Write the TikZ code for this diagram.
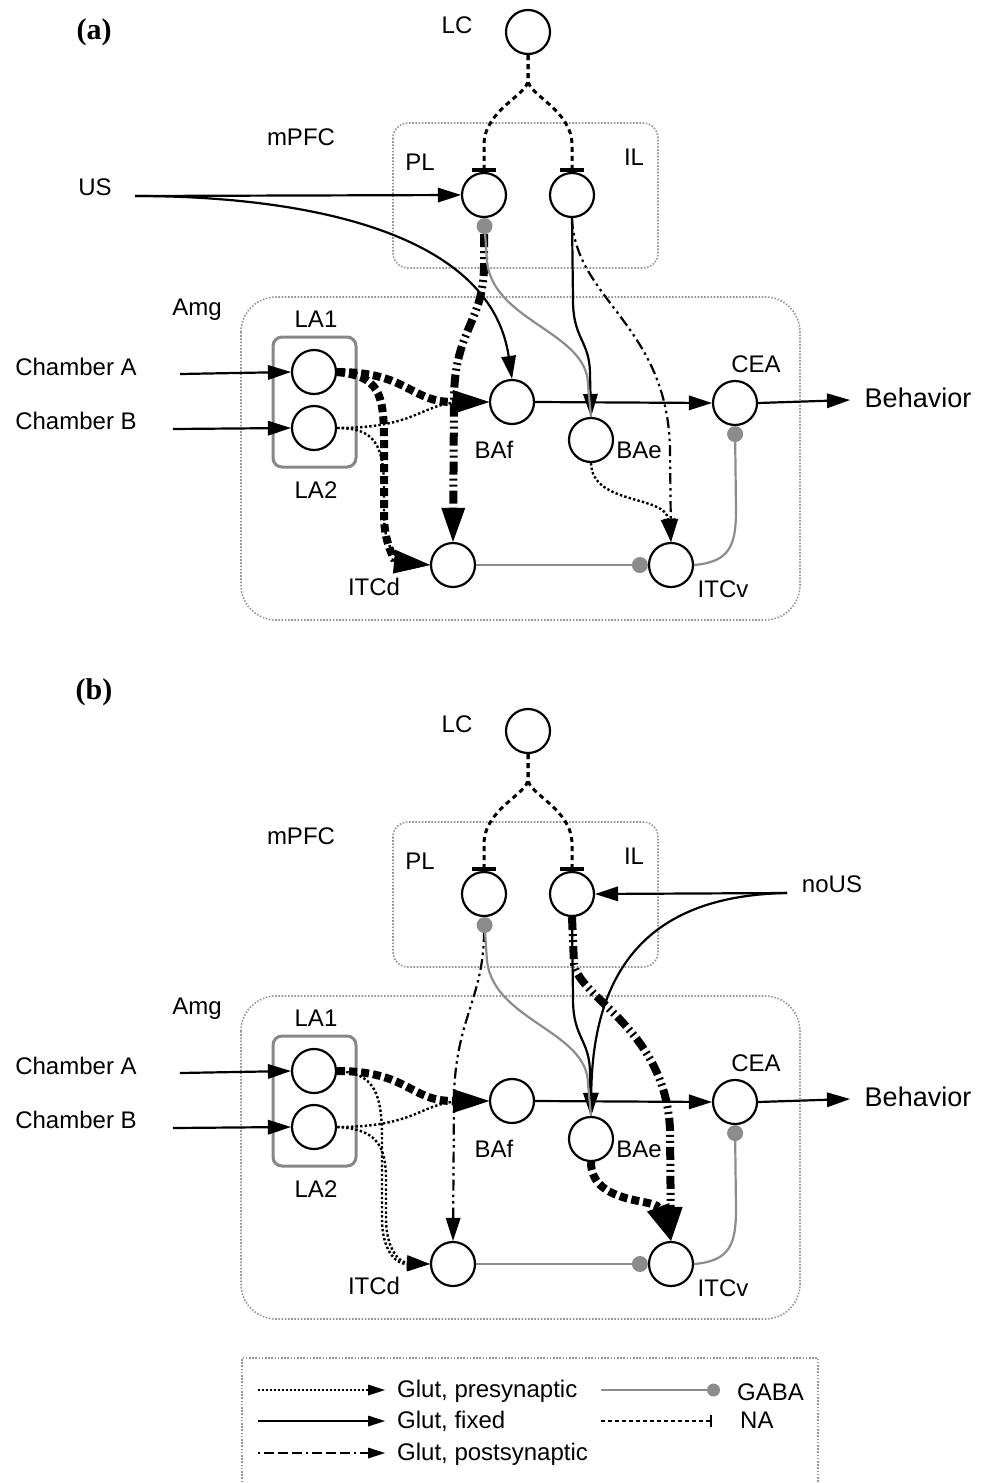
\documentclass[tikz,border=0pt]{standalone}
\usepackage{fontspec}
\setmainfont{Liberation Sans}
\newfontfamily\serifbold{Liberation Serif}
\usetikzlibrary{arrows.meta}
\definecolor{gabagray}{RGB}{140,140,140}
\definecolor{boxgray}{RGB}{150,150,150}
\definecolor{labgray}{RGB}{135,135,135}

\tikzset{
  neuron/.style={circle, draw, line width=2.2pt, minimum size=44pt, inner sep=0pt, fill=white},
  txt/.style={font=\fontsize{24}{28}\selectfont, inner sep=0pt, anchor=base},
  bigtxt/.style={font=\fontsize{27}{30}\selectfont, inner sep=0pt, anchor=base},
  paneltxt/.style={font=\serifbold\bfseries\fontsize{30}{34}\selectfont, inner sep=0pt, anchor=base},
  region/.style={draw=boxgray, line width=1.6pt, dash pattern=on 1.6pt off 1.6pt},
  labox/.style={draw=labgray, line width=3pt, rounded corners=9pt},
  fixedax/.style={line width=2.2pt, -{Triangle[length=23pt,width=15pt,line width=0pt]}},
  prethin/.style={line width=2.4pt, dash pattern=on 2.4pt off 2.2pt, -{Triangle[length=23pt,width=15pt,line width=0pt]}},
  prethick/.style={line width=8pt, dash pattern=on 8pt off 4pt, -{Triangle[length=36pt,width=24pt,line width=0pt]}},
  postthin/.style={line width=2.2pt, dash pattern=on 11pt off 4pt on 2.5pt off 4pt on 2.5pt off 4pt, -{Triangle[length=23pt,width=15pt,line width=0pt]}},
  postthick/.style={line width=8pt, dash pattern=on 13pt off 4pt on 2pt off 4pt on 2pt off 4pt, -{Triangle[length=34pt,width=24pt,line width=0pt]}},
  gaba/.style={draw=gabagray, line width=2.2pt, -{Circle[length=16pt,line width=0pt]}},
  nalink/.style={line width=3pt, dash pattern=on 5pt off 4pt, -{Bar[width=24pt,line width=3.5pt]}}
}

\newcommand{\panelcommon}{%
  % regions
  \draw[region, rounded corners=15pt] (393,123) rectangle (658,268);
  \draw[region, rounded corners=35pt] (241,297) rectangle (800,620);
  \draw[labox] (273,337) rectangle (356,467);
  % labels
  \node[txt] (tLC) at (457,33) {LC};
  \node[txt] (tmPFC) at (301,145) {mPFC};
  \node[txt] (tPL) at (420,170) {PL};
  \node[txt] (tIL) at (634,165) {IL};
  \node[txt] (tAmg) at (197,315) {Amg};
  \node[txt] (tLA1) at (316,327) {LA1};
  \node[txt] (tLA2) at (316,498) {LA2};
  \node[txt] (tChA) at (76,375) {Chamber A};
  \node[txt] (tChB) at (76,429) {Chamber B};
  \node[txt] (tBAf) at (494,458) {BAf};
  \node[txt] (tBAe) at (639,458) {BAe};
  \node[txt] (tCEA) at (756,372) {CEA};
  \node[txt] (tITCd) at (374,595) {ITCd};
  \node[txt] (tITCv) at (723,597) {ITCv};
  \node[bigtxt] (tBeh) at (918,407) {Behavior};
  % neurons
  \node[neuron] (LC) at (528,32) {};
  \node[neuron] (PL) at (484,195) {};
  \node[neuron] (IL) at (572,195) {};
  \node[neuron] (LA1) at (314,372) {};
  \node[neuron] (LA2) at (314,428) {};
  \node[neuron] (BAf) at (512,402) {};
  \node[neuron] (BAe) at (591,440) {};
  \node[neuron] (CEA) at (735,403) {};
  \node[neuron] (ITCd) at (453,565) {};
  \node[neuron] (ITCv) at (671,565) {};
  \coordinate (chA) at (180,374);
  \coordinate (chB) at (173,429);
  \coordinate (beh) at (850,400);
  % NA
  \draw[nalink] (LC.south) -- (528,80) .. controls (528,95) and (484,110) .. (484,145) -- (PL.north);
  \draw[nalink] (LC.south) -- (528,80) .. controls (528,95) and (572,110) .. (572,145) -- (IL.north);
  % inputs / outputs
  \draw[fixedax] (chA) -- (LA1.west);
  \draw[fixedax] (chB) -- (LA2.west);
  \draw[fixedax] (BAf.east) -- (CEA.west);
  \draw[fixedax] (CEA.east) -- (beh);
  % IL -> BAe
  \draw[fixedax] (IL.south) -- (573,300) .. controls (573,340) and (590,340) .. (590,375) -- (BAe.north);
  % LA -> BAf
  \draw[prethin] (LA2.east) .. controls (420,428) and (420,402) .. (BAf.west);
  \draw[prethick] (LA1.east) .. controls (408,372) and (410,402) .. (BAf.west);
}

\newcommand{\panelgaba}{%
  \draw[gaba] (BAe.north) -- (588,385) .. controls (588,332) and (494,322) .. (487,262) -- (PL.south);
  \draw[gaba] (ITCd.east) -- (ITCv.west);
  \draw[gaba] (ITCv.east) .. controls (730,562) and (736,545) .. (736,510) -- (CEA.south);
}

\begin{document}
\begin{tikzpicture}[x=1pt,y=-1pt]
\useasboundingbox (0,0) rectangle (989,1483);

% ---------------- panel (a)
\node[paneltxt] (pa) at (94,39) {(a)};
\begin{scope}[name prefix=a-]
  \panelcommon
  \node[txt] (tUS) at (95,195) {US};
  \coordinate (us) at (135,196);
  \draw[fixedax] (us) -- (PL.west);
  \draw[fixedax] (us) .. controls (300,196) and (490,230) .. (BAf.north);
  \draw[prethin] (LA2.east) .. controls (375,428) and (384,445) .. (384,490) -- (384,515) .. controls (384,548) and (398,562) .. (ITCd.west);
  \draw[prethick] (LA1.east) .. controls (378,376) and (384,392) .. (384,440) -- (384,515) .. controls (384,548) and (398,562) .. (ITCd.west);
  \draw[postthick] (484,234) -- (484,265) .. controls (484,322) and (454,330) .. (454,400) -- (ITCd.north);
  \draw[postthin] (IL.south) .. controls (575,300) and (668,325) .. (670,450) -- (ITCv.north);
  \draw[prethin] (BAe.south) .. controls (592,505) and (665,495) .. (ITCv.north);
  \panelgaba
\end{scope}

% ---------------- panel (b)
\node[paneltxt] (pb) at (94,699) {(b)};
\begin{scope}[name prefix=b-, shift={(0,699)}]
  \panelcommon
  \node[txt] (tnoUS) at (832,193) {noUS};
  \coordinate (nous) at (787,194);
  \draw[fixedax] (nous) -- (IL.east);
  \draw[fixedax] (nous) .. controls (680,196) and (593,240) .. (BAe.north);
  \draw[prethin] (LA1.east) .. controls (375,374) and (382,395) .. (382,440) -- (382,520) .. controls (382,550) and (395,565) .. (ITCd.west);
  \draw[prethin] (LA2.east) .. controls (375,430) and (386,445) .. (386,480) -- (386,520) .. controls (386,548) and (398,563) .. (ITCd.west);
  \draw[postthin] (484,232) .. controls (484,300) and (455,320) .. (454,400) -- (ITCd.north);
  \draw[postthick] (IL.south) -- (574,265) .. controls (580,300) and (665,330) .. (670,430) -- (ITCv.north);
  \draw[prethick] (BAe.south) .. controls (591,505) and (655,500) .. (ITCv.north);
  \panelgaba
\end{scope}

% ---------------- legend
\draw[region] (242,1495) |- (818,1358) -- (818,1495);
\coordinate (l1a) at (258,1390); \coordinate (l1b) at (385,1390);
\coordinate (l2a) at (258,1421); \coordinate (l2b) at (385,1421);
\coordinate (l3a) at (258,1453); \coordinate (l3b) at (385,1453);
\coordinate (g1a) at (601,1390); \coordinate (g1b) at (720,1390);
\coordinate (g2a) at (601,1421); \coordinate (g2b) at (712,1421);
\draw[line width=2pt, dash pattern=on 2pt off 2pt, -{Triangle[length=17pt,width=11pt,line width=0pt]}] (l1a) -- (l1b);
\draw[line width=2.2pt, -{Triangle[length=17pt,width=11pt,line width=0pt]}] (l2a) -- (l2b);
\draw[line width=2pt, dash pattern=on 2pt off 4pt on 10pt off 4pt on 10pt off 4pt on 10pt off 4pt, -{Triangle[length=17pt,width=11pt,line width=0pt]}] (l3a) -- (l3b);
\draw[gaba, -{Circle[length=13pt,line width=0pt]}] (g1a) -- (g1b);
\draw[line width=2pt, dash pattern=on 4pt off 3pt, -{Bar[width=12pt,line width=2pt]}] (g2a) -- (g2b);
\node[txt, anchor=base west] (lt1) at (397,1397) {Glut, presynaptic};
\node[txt, anchor=base west] (lt2) at (397,1428) {Glut, fixed};
\node[txt, anchor=base west] (lt3) at (397,1460) {Glut, postsynaptic};
\node[txt, anchor=base west] (lt4) at (737,1400) {GABA};
\node[txt, anchor=base west] (lt5) at (740,1428) {NA};
\end{tikzpicture}
\end{document}
